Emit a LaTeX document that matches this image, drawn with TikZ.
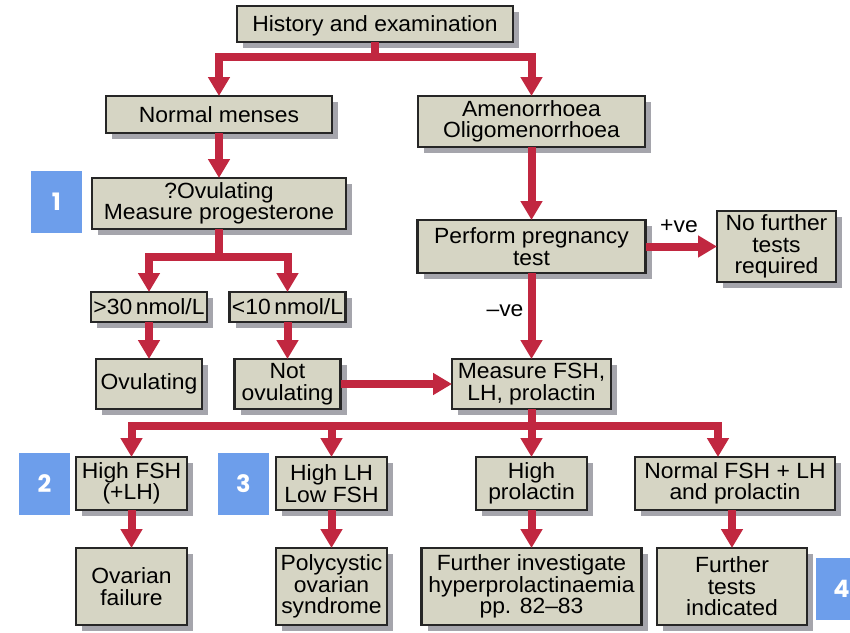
\documentclass[tikz,border=0pt]{standalone}
\usepackage{fontspec}
\setmainfont{Liberation Sans}[FakeStretch=1.04]
\newfontfamily\badgefont{Poppins}
\usetikzlibrary{arrows.meta,shadows,calc}
\definecolor{arrred}{RGB}{193,39,64}
\definecolor{boxfill}{RGB}{214,213,196}
\definecolor{shadowgray}{RGB}{165,165,172}
\definecolor{badgeblue}{RGB}{109,158,235}
\tikzset{
 box/.style={draw=black!85, line width=2.2pt, fill=boxfill, align=center, inner sep=0pt, outer sep=0pt,
   font=\fontsize{22}{21.5}\selectfont,
   drop shadow={shadow xshift=6pt, shadow yshift=-6pt, fill=shadowgray, opacity=1}},
 flow/.style={draw=arrred, line width=8pt, -{Triangle[width=21pt,length=19pt]}, line join=miter},
 badge/.style={fill=badgeblue, text=white, minimum width=51pt, minimum height=62pt, inner sep=0pt,
   font=\badgefont\bfseries\fontsize{24}{24}\selectfont},
 lbl/.style={font=\fontsize{22}{22}\selectfont, inner sep=0pt},
}
\begin{document}
\begin{tikzpicture}[x=1pt,y=-1pt]
\useasboundingbox[fill=white] (0,0) rectangle (850,632);
% boxes
\node[box, minimum width=276pt, minimum height=36pt, text depth=0pt] (hist) at (375,24) {History and examination};
\node[box, minimum width=226pt, minimum height=37pt] (nm) at (219,114.5) {Normal menses};
\node[box, minimum width=227pt, minimum height=51pt] (amen) at (531.5,121.5) {Amenorrhoea\\Oligomenorrhoea};
\node[box, minimum width=254pt, minimum height=51pt] (prog) at (219,203.5) {?Ovulating\\Measure progesterone};
\node[box, minimum width=228pt, minimum height=53pt] (preg) at (531.5,246.5) {Perform pregnancy\\test};
\node[box, minimum width=119pt, minimum height=71pt] (nft) at (776.5,246.5) {No further\\tests\\required};
\node[box, minimum width=116pt, minimum height=30pt, text depth=0pt] (g30) at (149,307) {>30\,nmol/L};
\node[box, minimum width=116pt, minimum height=30pt, text depth=0pt] (l10) at (287.5,307) {<10\,nmol/L};
\node[box, minimum width=106pt, minimum height=50pt] (ovu) at (149,384) {Ovulating};
\node[box, minimum width=106pt, minimum height=50pt] (novu) at (287.5,384) {Not\\ovulating};
\node[box, minimum width=159pt, minimum height=50pt] (mfsh) at (531.5,384) {Measure FSH,\\LH, prolactin};
\node[box, minimum width=111pt, minimum height=53pt] (hfsh) at (131.5,483.5) {High FSH\\(+LH)};
\node[box, minimum width=111pt, minimum height=53pt] (hlh) at (331.5,483.5) {High LH\\Low FSH};
\node[box, minimum width=111pt, minimum height=53pt] (hprl) at (531.5,483.5) {High\\prolactin};
\node[box, minimum width=200pt, minimum height=53pt] (nfsh) at (735,483.5) {Normal FSH + LH\\and prolactin};
\node[box, minimum width=111pt, minimum height=77pt] (ovf) at (131.5,586.5) {Ovarian\\failure};
\node[box, minimum width=111pt, minimum height=77pt] (pcos) at (331.5,586.5) {Polycystic\\ovarian\\syndrome};
\node[box, minimum width=220pt, minimum height=77pt] (fih) at (531.5,586.5) {Further investigate\\hyperprolactinaemia\\pp. 82--83};
\node[box, minimum width=150pt, minimum height=77pt] (fti) at (732,586.5) {Further\\tests\\indicated};
% labels
\node[lbl] (pos) at (679,226) {+ve};
\node[lbl] (neg) at (505,311) {--ve};
% badges
\node[badge] (b1) at (56.5,201.5) {1};
\node[badge] (b2) at (44.5,484) {2};
\node[badge] (b3) at (243.5,484) {3};
\node[badge] (b4) at (841.5,589) {4};
% connectors
\coordinate (bar1) at (0,57);
\coordinate (bar2) at (0,257);
\coordinate (bar3) at (0,426);
\draw[flow] (hist.south) -- (hist.south |- bar1) -| (nm.north);
\draw[flow] (hist.south) -- (hist.south |- bar1) -| (amen.north);
\draw[flow] (nm.south) -- (prog.north);
\draw[flow] (prog.south) -- (prog.south |- bar2) -| (g30.north);
\draw[flow] (prog.south) -- (prog.south |- bar2) -| (l10.north);
\draw[flow] (g30.south) -- (ovu.north);
\draw[flow] (l10.south) -- (novu.north);
\draw[flow] (novu.east) -- (mfsh.west);
\draw[flow] (amen.south) -- (preg.north);
\draw[flow] (preg.east) -- (nft.west);
\draw[flow] (preg.south) -- (mfsh.north);
\draw[flow] (mfsh.south) -- (mfsh.south |- bar3) -| (hfsh.north);
\draw[flow] (mfsh.south) -- (mfsh.south |- bar3) -| (hlh.north);
\draw[flow] (mfsh.south) -- (hprl.north);
\draw[flow] (mfsh.south) -- (mfsh.south |- bar3) -| ([xshift=-17pt]nfsh.north);
\draw[flow] (hfsh.south) -- (ovf.north);
\draw[flow] (hlh.south) -- (pcos.north);
\draw[flow] (hprl.south) -- (fih.north);
\draw[flow] (fti.north |- nfsh.south) -- (fti.north);
\end{tikzpicture}
\end{document}
